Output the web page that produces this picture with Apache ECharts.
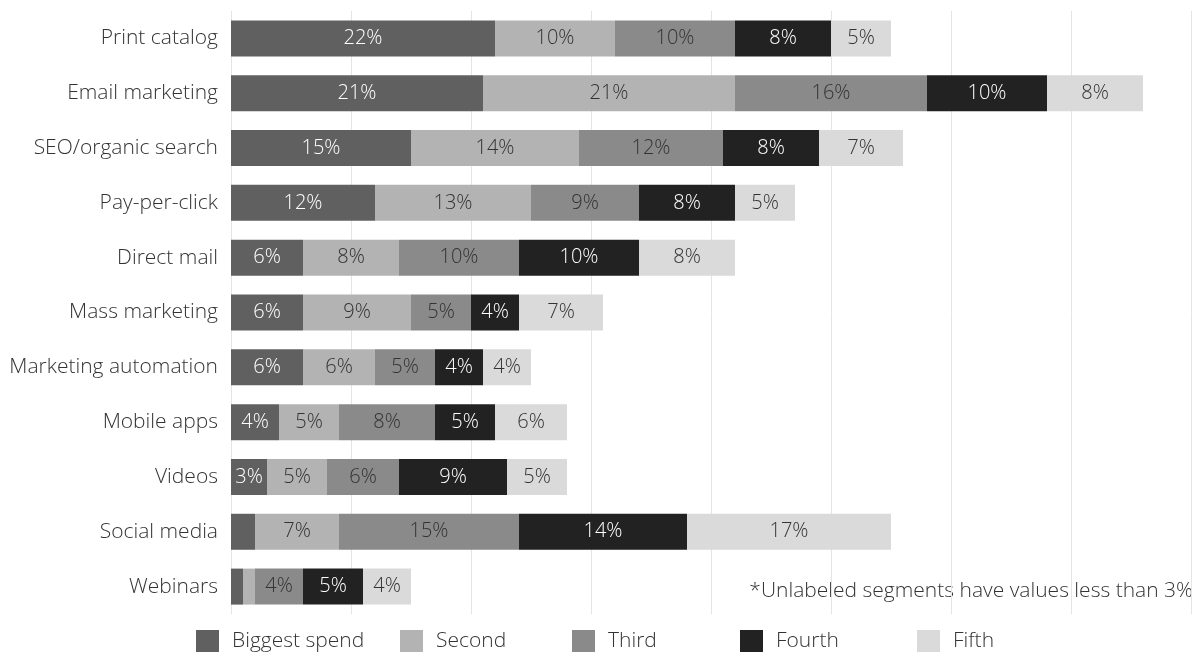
<!DOCTYPE html>
<html>
<head>
<meta charset="utf-8">
<script src="https://cdn.jsdelivr.net/npm/echarts@6/dist/echarts.min.js"></script>
<style>
html,body{margin:0;padding:0;background:#fff;}
#c{width:1195px;height:652px;}
</style>
</head>
<body>
<div id="c"></div>
<script>
const categories = ['Print catalog','Email marketing','SEO/organic search','Pay-per-click','Direct mail','Mass marketing','Marketing automation','Mobile apps','Videos','Social media','Webinars'];
const seriesNames = ['Biggest spend','Second','Third','Fourth','Fifth'];
const biggest = [22,21,15,12,6,6,6,4,3,2,1];
const second  = [10,21,14,13,8,9,6,5,5,7,1];
const third   = [10,16,12,9,10,5,5,8,6,15,4];
const fourth  = [8,10,8,8,10,4,4,5,9,14,5];
const fifth   = [5,8,7,5,8,7,4,6,5,17,4];
const noteText = '*Unlabeled segments have values less than 3%';

const values = [biggest, second, third, fourth, fifth];
const colors = ['#606060','#b3b3b3','#8a8a8a','#222222','#dadada'];
const labelColors = ['#ffffff','#333333','#333333','#ffffff','#333333'];
const FONT = '"Open Sans"';

const chart = echarts.init(document.getElementById('c'));
const legendLefts = [196, 400, 572, 740, 917];

chart.setOption({
  animation: false,
  grid: {left: 231, right: 4, top: 11, bottom: 38},
  xAxis: {
    type: 'value', min: 0, max: 80, interval: 10,
    axisLabel: {show: false}, axisLine: {show: false}, axisTick: {show: false},
    splitLine: {lineStyle: {color: '#e4e4e4', width: 1}}
  },
  yAxis: {
    type: 'category', data: categories, inverse: true,
    axisLine: {show: false}, axisTick: {show: false},
    axisLabel: {color: '#333', fontSize: 21, fontFamily: FONT, fontWeight: 300, margin: 13}
  },
  legend: seriesNames.map((n, i) => ({
    data: [n], left: legendLefts[i], top: 630, padding: 0, itemWidth: 23, itemHeight: 22, itemGap: 10,
    icon: 'rect',
    textStyle: {color: '#333', fontSize: 21, fontFamily: FONT, fontWeight: 300, padding: [0,0,0,8]}
  })),
  graphic: [{
    type: 'text', right: 2, top: 581,
    style: {text: noteText, fill: '#333', font: '300 21px ' + FONT}
  }],
  series: seriesNames.map((n, i) => ({
    name: n, type: 'bar', stack: 'total', data: values[i],
    barWidth: 36,
    itemStyle: {color: colors[i]},
    label: {
      show: true, position: 'inside', color: labelColors[i],
      fontSize: 20, fontFamily: FONT, fontWeight: 300,
      formatter: p => p.value >= 3 ? p.value + '%' : ''
    }
  }))
});
</script>
</body>
</html>
